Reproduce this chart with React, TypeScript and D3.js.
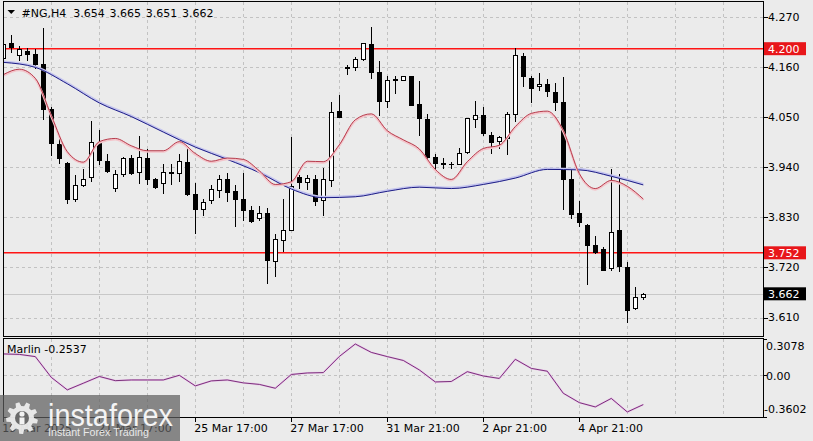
import * as d3 from 'd3';

const W = 813;
const H = 441;

// #NG,H4 candles, one per bar (19 Mar 17:00 .. 6 Apr)
const OPEN = [
  4.180, 4.212, 4.187, 4.196, 4.189, 4.167, 4.068, 3.990, 3.950, 3.871,
  3.901, 3.918, 3.994, 3.954, 3.895, 3.925, 3.960, 3.930, 3.961, 3.913,
  3.906, 3.930, 3.928, 3.952, 3.881, 3.849, 3.868, 3.889, 3.913, 3.887,
  3.869, 3.847, 3.828, 3.839, 3.734, 3.780, 3.802, 3.918, 3.907, 3.914,
  3.868, 3.912, 4.063, 4.160, 4.160, 4.178, 4.210, 4.148, 4.086, 4.133,
  4.132, 4.141, 4.078, 4.046, 3.962, 3.949, 3.946, 3.948, 3.973, 4.046,
  4.055, 4.011, 3.997, 4.004, 4.057, 4.185, 4.135, 4.118, 4.123, 4.105,
  4.083, 3.913, 3.839, 3.812, 3.770, 3.761, 3.718, 3.801, 3.721, 3.630,
  3.654,
];
const HIGH = [
  4.257, 4.233, 4.209, 4.203, 4.202, 4.247, 4.075, 4.005, 3.954, 3.924,
  3.939, 4.044, 4.024, 3.970, 3.935, 3.964, 3.968, 4.011, 3.983, 3.918,
  3.949, 3.949, 3.972, 3.987, 3.908, 3.872, 3.904, 3.924, 3.930, 3.902,
  3.930, 3.856, 3.858, 3.852, 3.795, 3.872, 4.009, 3.924, 3.924, 3.924,
  3.941, 4.086, 4.100, 4.166, 4.183, 4.215, 4.250, 4.176, 4.142, 4.143,
  4.143, 4.142, 4.132, 4.058, 3.971, 3.962, 3.953, 3.984, 4.051, 4.088,
  4.074, 4.019, 4.011, 4.063, 4.203, 4.192, 4.143, 4.149, 4.135, 4.127,
  4.140, 3.938, 3.868, 3.817, 3.792, 3.766, 3.938, 3.927, 3.734, 3.680,
  3.665,
];
const LOW = [
  4.171, 4.193, 4.176, 4.176, 4.158, 4.046, 3.967, 3.950, 3.862, 3.865,
  3.898, 3.909, 3.946, 3.929, 3.887, 3.920, 3.926, 3.906, 3.902, 3.895,
  3.884, 3.902, 3.909, 3.878, 3.796, 3.834, 3.862, 3.875, 3.866, 3.811,
  3.825, 3.820, 3.824, 3.685, 3.700, 3.756, 3.801, 3.895, 3.891, 3.858,
  3.836, 3.898, 4.049, 4.145, 4.154, 4.176, 4.136, 4.054, 4.072, 4.103,
  4.131, 4.076, 4.010, 3.957, 3.935, 3.939, 3.938, 3.946, 3.972, 4.028,
  4.011, 3.972, 3.983, 3.968, 4.041, 4.118, 4.083, 4.110, 4.096, 4.065,
  3.849, 3.829, 3.810, 3.683, 3.751, 3.714, 3.715, 3.712, 3.600, 3.628,
  3.651,
];
const CLOSE = [
  4.211, 4.203, 4.199, 4.188, 4.167, 4.068, 3.992, 3.959, 3.869, 3.900,
  3.913, 3.995, 3.955, 3.931, 3.925, 3.959, 3.928, 3.963, 3.913, 3.897,
  3.929, 3.928, 3.954, 3.880, 3.849, 3.863, 3.891, 3.914, 3.885, 3.870,
  3.846, 3.822, 3.839, 3.736, 3.782, 3.802, 3.898, 3.907, 3.916, 3.866,
  3.913, 4.061, 4.050, 4.158, 4.177, 4.212, 4.149, 4.085, 4.132, 4.131,
  4.141, 4.077, 4.048, 3.962, 3.949, 3.947, 3.947, 3.971, 4.048, 4.055,
  4.014, 3.996, 4.006, 4.057, 4.187, 4.140, 4.113, 4.123, 4.107, 4.083,
  3.913, 3.838, 3.819, 3.770, 3.754, 3.715, 3.798, 3.723, 3.627, 3.655,
  3.662,
];

// fast MA (red), read every 2nd bar
const MA_FAST = [
  4.143, 4.155, 4.135, 4.053, 3.974, 3.951, 3.996, 4.003, 3.987, 3.976,
  3.976, 3.996, 3.970, 3.953, 3.960, 3.957, 3.932, 3.902, 3.908, 3.953,
  3.952, 3.989, 4.044, 4.057, 4.020, 4.000, 3.980, 3.935, 3.913, 3.952,
  3.981, 3.988, 4.029, 4.058, 4.063, 4.020, 3.926, 3.893, 3.911, 3.898,
  3.870,
];
// slow MA (blue), read every 4th bar
const MA_SLOW = [
  4.170, 4.159, 4.123, 4.081, 4.051, 4.017, 3.984, 3.957, 3.928, 3.892,
  3.873, 3.875, 3.887, 3.896, 3.893, 3.902, 3.916, 3.935, 3.934, 3.920,
  3.901,
];
// Marlin oscillator, read every 2nd bar
const MARLIN = [
  0.180, 0.176, 0.157, -0.021, -0.128, -0.071, -0.013, -0.049, -0.043, -0.043,
  -0.043, -0.003, -0.094, -0.051, -0.043, -0.068, -0.081, -0.114, 0.004, 0.017,
  0.020, 0.158, 0.265, 0.193, 0.157, 0.124, 0.043, -0.060, -0.056, 0.028,
  -0.009, -0.030, 0.134, 0.056, 0.032, -0.157, -0.237, -0.274, -0.201, -0.317,
  -0.2537,
];

const PRICE_TICKS = [4.270, 4.160, 4.050, 3.940, 3.830, 3.720, 3.610];
const LEVELS = [4.200, 3.752];
const LAST = 3.662;
const MARLIN_TICKS = [0.3078, 0, -0.3602];
const TIME_IDX = [0, 12, 24, 36, 48, 60, 72];
const TIME_LABELS = ['19 Mar 2025', '21 Mar 17:00', '25 Mar 17:00', '27 Mar 17:00', '31 Mar 21:00', '2 Apr 21:00', '4 Apr 21:00'];
const HEADER = ['3.654', '3.665', '3.651', '3.662'];

const FONT = 'DejaVu Sans, Tahoma, sans-serif';
const LEFT = 3.5;
const RIGHT = 763.5;
const MAIN_TOP = 1.5;
const MAIN_BOTTOM = 336.5;
const IND_TOP = 338.5;
const IND_BOTTOM = 417.5;

const x = d3.scaleLinear().domain([0, 80]).range([3.3, 643.3]);
const y = d3.scaleLinear().domain([3.610, 4.270]).range([317.5, 16.8]);
const ym = d3.scaleLinear().domain([-0.3602, 0.3078]).range([417, 339]);

const px = (v: number) => Math.round(v) + 0.5;

function gearPath(cx: number, cy: number, r1: number, r2: number, teeth: number) {
  const pts: [number, number][] = [];
  for (let k = 0; k < teeth; k++) {
    const a = (k / teeth) * Math.PI * 2;
    const s = (Math.PI * 2) / teeth;
    [[a, r1], [a + s * 0.15, r2], [a + s * 0.5, r2], [a + s * 0.65, r1]].forEach(([ang, r]) => {
      pts.push([cx + r * Math.cos(ang), cy + r * Math.sin(ang)]);
    });
  }
  return 'M' + pts.map(p => p.join(',')).join('L') + 'Z';
}

export default function App() {
  const fastLine = d3.line<number>().x((_, k) => x(k * 2)).y(v => y(v)).curve(d3.curveMonotoneX);
  const slowLine = d3.line<number>().x((_, k) => x(k * 4)).y(v => y(v)).curve(d3.curveMonotoneX);
  const marlinLine = d3.line<number>().x((_, k) => x(k * 2)).y(v => ym(v));

  const gridX = d3.range(6, 91, 6).map(i => px(x(i)));
  const dash = '3,3';
  const gridColor = '#c2c2c2';

  return (
    <div style={{ position: 'fixed', left: 0, top: 0 }}>
      <svg width={W} height={H} style={{ display: 'block', background: '#ebebeb', fontFamily: FONT }}>
        <defs>
          <clipPath id="main">
            <rect x={LEFT + 0.5} y={MAIN_TOP + 0.5} width={RIGHT - LEFT - 1} height={MAIN_BOTTOM - MAIN_TOP - 1} />
          </clipPath>
          <clipPath id="ind">
            <rect x={LEFT + 0.5} y={IND_TOP + 0.5} width={RIGHT - LEFT - 1} height={IND_BOTTOM - IND_TOP - 1} />
          </clipPath>
        </defs>

        {/* grid */}
        <g stroke={gridColor} strokeDasharray={dash} shapeRendering="crispEdges">
          {gridX.map(gx => (
            <line key={'gm' + gx} x1={gx} x2={gx} y1={MAIN_TOP} y2={MAIN_BOTTOM} />
          ))}
          {gridX.map(gx => (
            <line key={'gi' + gx} x1={gx} x2={gx} y1={IND_TOP} y2={IND_BOTTOM} />
          ))}
          {PRICE_TICKS.map(t => (
            <line key={'gh' + t} x1={LEFT} x2={RIGHT} y1={px(y(t))} y2={px(y(t))} />
          ))}
          <line x1={LEFT} x2={RIGHT} y1={px(ym(0))} y2={px(ym(0))} />
        </g>

        {/* levels + last price line */}
        <line x1={LEFT} x2={RIGHT} y1={px(y(LAST))} y2={px(y(LAST))} stroke="#c8c8c8" shapeRendering="crispEdges" />
        {LEVELS.map(l => (
          <line key={'lv' + l} x1={LEFT} x2={RIGHT} y1={y(l)} y2={y(l)} stroke="#ff1414" strokeWidth={1.4} />
        ))}

        {/* candles */}
        <g clipPath="url(#main)" shapeRendering="crispEdges">
          {OPEN.map((o, i) => {
            const c = CLOSE[i];
            const cx = Math.round(x(i));
            const top = px(y(Math.max(o, c)));
            const bot = px(y(Math.min(o, c)));
            const bull = c >= o;
            return (
              <g key={'c' + i}>
                <line x1={cx + 0.5} x2={cx + 0.5} y1={px(y(HIGH[i]))} y2={px(y(LOW[i]))} stroke="#000" />
                {bot - top >= 1 ? (
                  <rect x={cx - 1.5} y={top} width={4} height={bot - top} fill={bull ? '#fff' : '#000'} stroke="#000" />
                ) : (
                  <line x1={cx - 2} x2={cx + 3} y1={top} y2={top} stroke="#000" />
                )}
              </g>
            );
          })}
        </g>

        {/* moving averages */}
        <g clipPath="url(#main)" fill="none">
          <path d={slowLine(MA_SLOW) || ''} stroke="#c4c4ee" strokeWidth={2.4} transform="translate(0,-0.8)" />
          <path d={slowLine(MA_SLOW) || ''} stroke="#1e1e86" strokeWidth={1} />
          <path d={fastLine(MA_FAST) || ''} stroke="#f3c4ca" strokeWidth={2.2} transform="translate(0,1)" />
          <path d={fastLine(MA_FAST) || ''} stroke="#b02a3c" strokeWidth={0.9} />
        </g>

        {/* marlin */}
        <g clipPath="url(#ind)" fill="none">
          <path d={marlinLine(MARLIN) || ''} stroke="#eac6ea" strokeWidth={2} />
          <path d={marlinLine(MARLIN) || ''} stroke="#6e1f6e" strokeWidth={0.9} />
        </g>

        {/* frames */}
        <g fill="none" stroke="#000" shapeRendering="crispEdges">
          <rect x={LEFT} y={MAIN_TOP} width={RIGHT - LEFT} height={MAIN_BOTTOM - MAIN_TOP} />
          <rect x={LEFT} y={IND_TOP} width={RIGHT - LEFT} height={IND_BOTTOM - IND_TOP} />
        </g>

        {/* price axis */}
        <g fontSize={11} fill="#000">
          {PRICE_TICKS.map(t => (
            <g key={'pt' + t}>
              <line x1={RIGHT} x2={RIGHT + 4} y1={px(y(t))} y2={px(y(t))} stroke="#000" shapeRendering="crispEdges" />
              <text x={768} y={y(t)} dy="0.36em">{t.toFixed(3)}</text>
            </g>
          ))}
          {LEVELS.map(l => (
            <g key={'pl' + l}>
              <rect x={764} y={y(l) - 6.5} width={42} height={13} fill="#e8161a" />
              <text x={768} y={y(l)} dy="0.36em" fill="#fff">{l.toFixed(3)}</text>
            </g>
          ))}
          <rect x={764} y={y(LAST) - 6.5} width={42} height={13} fill="#000" />
          <text x={768} y={y(LAST)} dy="0.36em" fill="#fff">{LAST.toFixed(3)}</text>
        </g>

        {/* marlin axis */}
        <g fontSize={11} fill="#000">
          {MARLIN_TICKS.map((t, k) => (
            <g key={'mt' + t}>
              <line x1={RIGHT} x2={RIGHT + 3} y1={px(ym(t))} y2={px(ym(t))} stroke="#000" shapeRendering="crispEdges" />
              <text
                x={t < 0 ? 764 : 766}
                y={ym(t) + (k === 0 ? 7 : k === 2 ? -8 : 0.7)}
                dy="0.36em"
              >
                {t === 0 ? '0.00' : t.toFixed(4)}
              </text>
            </g>
          ))}
        </g>

        {/* time axis */}
        <g fontSize={11} fill="#000">
          {TIME_IDX.map((i, k) => (
            <g key={'tx' + i}>
              <line x1={px(x(i))} x2={px(x(i))} y1={IND_BOTTOM} y2={IND_BOTTOM + 4} stroke="#000" shapeRendering="crispEdges" />
              <text x={x(i) - 1} y={432}>{TIME_LABELS[k]}</text>
            </g>
          ))}
        </g>

        {/* header */}
        <g fontSize={11} fill="#000">
          <path d="M7.5,10 L15,10 L11.25,14 Z" fill="#000" />
          <text x={21.5} y={16.5}>#NG,H4</text>
          {HEADER.map((h, k) => (
            <text key={'hd' + k} x={73.3 + k * 36.2} y={16.5}>{h}</text>
          ))}
        </g>
        <text x={7} y={349} dy="0.36em" fontSize={11} fill="#000">Marlin -0.2537</text>

        {/* watermark */}
        <g>
          <rect x={0} y={395} width={180} height={46} fill="#5e5e5e" opacity={0.72} />
          <path d={gearPath(22, 418, 12, 16, 9)} fill="#f2f2f2" opacity={0.9} />
          <circle cx={22} cy={418} r={7} fill="#6a6a6a" />
          <circle cx={22} cy={414} r={2.6} fill="#f2f2f2" />
          <rect x={19.5} y={417.5} width={5} height={7} fill="#f2f2f2" />
          <text x={48} y={426} fontSize={31} fontFamily="Liberation Sans, Arial, sans-serif" fill="#f4f4f4" textLength={125} lengthAdjust="spacingAndGlyphs">instaforex</text>
          <text x={48} y={436} fontSize={10} fontFamily="Liberation Sans, Arial, sans-serif" fill="#e8e8e8" textLength={101} lengthAdjust="spacingAndGlyphs">Instant Forex Trading</text>
        </g>
      </svg>
    </div>
  );
}
